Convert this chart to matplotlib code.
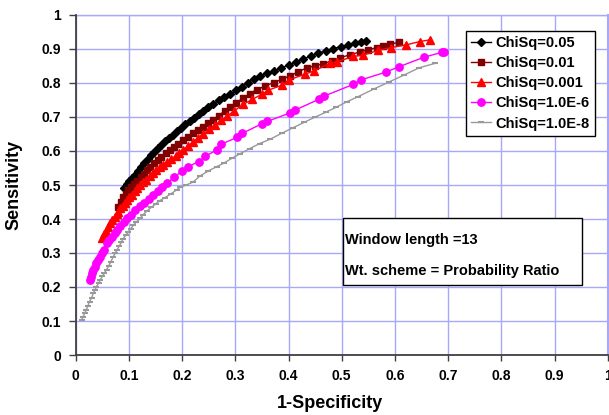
import matplotlib
matplotlib.use("Agg")
import matplotlib.pyplot as plt
from matplotlib.patches import Rectangle

# ---- data ----
labels = ["ChiSq=0.05", "ChiSq=0.01", "ChiSq=0.001", "ChiSq=1.0E-6", "ChiSq=1.0E-8"]

x_005 = [0.091, 0.096, 0.101, 0.106, 0.111, 0.117, 0.123, 0.129, 0.135, 0.141, 0.147, 0.154,
         0.161, 0.168, 0.175, 0.182, 0.190, 0.198, 0.206, 0.214, 0.222, 0.231, 0.240, 0.249,
         0.259, 0.269, 0.279, 0.290, 0.301, 0.312, 0.323, 0.335, 0.347, 0.360, 0.373, 0.386,
         0.400, 0.414, 0.428, 0.442, 0.456, 0.470, 0.484, 0.498, 0.512, 0.525, 0.536, 0.546]
y_005 = [0.492, 0.502, 0.511, 0.521, 0.530, 0.541, 0.553, 0.564, 0.575, 0.587, 0.598, 0.608,
         0.618, 0.628, 0.637, 0.647, 0.658, 0.669, 0.680, 0.689, 0.698, 0.709, 0.719, 0.730,
         0.739, 0.749, 0.758, 0.767, 0.778, 0.789, 0.801, 0.812, 0.820, 0.828, 0.836, 0.844,
         0.853, 0.862, 0.871, 0.880, 0.888, 0.895, 0.901, 0.907, 0.912, 0.917, 0.921, 0.924]

x_001 = [0.080, 0.085, 0.089, 0.094, 0.099, 0.104, 0.110, 0.116, 0.122, 0.128, 0.134, 0.140,
         0.147, 0.154, 0.161, 0.169, 0.177, 0.185, 0.193, 0.202, 0.211, 0.221, 0.230, 0.240,
         0.249, 0.259, 0.269, 0.280, 0.290, 0.302, 0.315, 0.327, 0.340, 0.356, 0.372, 0.388,
         0.403, 0.418, 0.434, 0.450, 0.465, 0.481, 0.497, 0.515, 0.534, 0.550, 0.566, 0.578,
         0.590, 0.608]
y_001 = [0.436, 0.450, 0.464, 0.474, 0.484, 0.494, 0.503, 0.513, 0.523, 0.533, 0.543, 0.554,
         0.564, 0.573, 0.583, 0.593, 0.603, 0.612, 0.621, 0.631, 0.641, 0.652, 0.661, 0.671,
         0.681, 0.691, 0.704, 0.718, 0.730, 0.742, 0.756, 0.769, 0.780, 0.791, 0.801, 0.811,
         0.821, 0.833, 0.844, 0.851, 0.856, 0.865, 0.874, 0.883, 0.891, 0.898, 0.904, 0.909,
         0.914, 0.920]

x_0001 = [0.049, 0.053, 0.057, 0.061, 0.065, 0.069, 0.073, 0.077, 0.080, 0.084, 0.088, 0.092,
          0.096, 0.101, 0.106, 0.111, 0.116, 0.121, 0.127, 0.133, 0.139, 0.145, 0.151, 0.158,
          0.165, 0.172, 0.180, 0.188, 0.195, 0.202, 0.211, 0.220, 0.230, 0.240, 0.251, 0.262,
          0.274, 0.285, 0.297, 0.315, 0.332, 0.350, 0.362, 0.387, 0.401, 0.431, 0.447, 0.478,
          0.492, 0.522, 0.540, 0.569, 0.592, 0.621, 0.647, 0.666]
y_0001 = [0.343, 0.355, 0.366, 0.377, 0.388, 0.397, 0.405, 0.414, 0.422, 0.431, 0.439, 0.448,
          0.456, 0.464, 0.472, 0.481, 0.490, 0.499, 0.508, 0.516, 0.525, 0.534, 0.543, 0.552,
          0.560, 0.568, 0.577, 0.586, 0.594, 0.603, 0.614, 0.625, 0.638, 0.650, 0.664, 0.677,
          0.690, 0.703, 0.717, 0.737, 0.752, 0.767, 0.779, 0.793, 0.809, 0.826, 0.835, 0.858,
          0.863, 0.878, 0.882, 0.896, 0.904, 0.912, 0.922, 0.927]

x_1e6 = [0.027, 0.029, 0.031, 0.033, 0.036, 0.039, 0.042, 0.046, 0.050, 0.054, 0.058, 0.063,
         0.068, 0.073, 0.078, 0.084, 0.090, 0.096, 0.104, 0.112, 0.121, 0.129, 0.137, 0.146,
         0.154, 0.162, 0.171, 0.185, 0.199, 0.212, 0.231, 0.243, 0.265, 0.274, 0.303, 0.313,
         0.350, 0.360, 0.403, 0.412, 0.457, 0.466, 0.522, 0.536, 0.583, 0.608, 0.655, 0.688,
         0.692]
y_1e6 = [0.221, 0.230, 0.240, 0.250, 0.260, 0.270, 0.279, 0.289, 0.299, 0.309, 0.328, 0.338,
         0.348, 0.358, 0.368, 0.378, 0.390, 0.402, 0.413, 0.425, 0.437, 0.448, 0.459, 0.471,
         0.482, 0.493, 0.505, 0.523, 0.540, 0.554, 0.569, 0.584, 0.603, 0.620, 0.640, 0.652,
         0.680, 0.687, 0.712, 0.720, 0.752, 0.761, 0.796, 0.809, 0.832, 0.848, 0.876, 0.890,
         0.892]

x_1e8 = [0.011, 0.014, 0.017, 0.020, 0.023, 0.026, 0.030, 0.033, 0.036, 0.039, 0.043, 0.046,
         0.050, 0.054, 0.058, 0.062, 0.066, 0.070, 0.074, 0.078, 0.082, 0.086, 0.089, 0.094,
         0.099, 0.104, 0.108, 0.114, 0.121, 0.127, 0.134, 0.142, 0.150, 0.158, 0.168, 0.179,
         0.190, 0.196, 0.208, 0.221, 0.233, 0.249, 0.265, 0.278, 0.293, 0.308, 0.327, 0.346,
         0.366, 0.387, 0.408, 0.429, 0.449, 0.470, 0.490, 0.510, 0.531, 0.560, 0.589, 0.618,
         0.646, 0.676]
y_1e8 = [0.103, 0.113, 0.123, 0.133, 0.145, 0.157, 0.169, 0.181, 0.191, 0.201, 0.211, 0.221,
         0.231, 0.241, 0.251, 0.262, 0.274, 0.287, 0.299, 0.310, 0.321, 0.332, 0.342, 0.352,
         0.362, 0.372, 0.381, 0.391, 0.402, 0.413, 0.424, 0.434, 0.444, 0.454, 0.463, 0.474,
         0.486, 0.493, 0.500, 0.509, 0.526, 0.541, 0.554, 0.564, 0.578, 0.591, 0.607, 0.622,
         0.635, 0.652, 0.668, 0.684, 0.699, 0.714, 0.729, 0.745, 0.760, 0.782, 0.803, 0.824,
         0.845, 0.858]

x_ticks = [0, 0.1, 0.2, 0.3, 0.4, 0.5, 0.6, 0.7, 0.8, 0.9, 1]
x_ticklabels = ["0", "0.1", "0.2", "0.3", "0.4", "0.5", "0.6", "0.7", "0.8", "0.9", "1"]
y_ticks = [0, 0.1, 0.2, 0.3, 0.4, 0.5, 0.6, 0.7, 0.8, 0.9, 1]
y_ticklabels = ["0", "0.1", "0.2", "0.3", "0.4", "0.5", "0.6", "0.7", "0.8", "0.9", "1"]
annot_lines = ["Window length =13", "Wt. scheme = Probability Ratio"]

# ---- figure ----
plt.rcParams['font.family'] = ['Liberation Sans', 'DejaVu Sans']
plt.rcParams['font.weight'] = 'bold'

fig = plt.figure(figsize=(6.09, 4.15), dpi=100)
ax = fig.add_axes([75.7 / 609, 60 / 415, 532 / 609, 340 / 415])
ax.set_xlim(0, 1)
ax.set_ylim(0, 1)

grid_c = '#A8A8F8'
ax.set_xticks(x_ticks)
ax.set_xticklabels(x_ticklabels)
ax.set_yticks(y_ticks)
ax.set_yticklabels(y_ticklabels)
ax.grid(True, color=grid_c, linewidth=1.0, zorder=0)
ax.set_axisbelow(True)

for s in ['top', 'right']:
    ax.spines[s].set_visible(False)
for s in ['left', 'bottom']:
    ax.spines[s].set_color('#404040')
    ax.spines[s].set_linewidth(1.3)
    ax.spines[s].set_zorder(5)

ax.tick_params(axis='x', direction='out', length=4, width=1, color='#404040', pad=6, labelsize=10)
ax.tick_params(axis='y', direction='out', length=5, width=1, color='#404040', pad=5.5, labelsize=10)
for t in ax.get_xticklabels() + ax.get_yticklabels():
    t.set_fontweight('bold')

ax.plot([1, 1], [0, 1], color=grid_c, linewidth=1.5, clip_on=False, zorder=0)
ax.plot([0, 1], [1, 1], color=grid_c, linewidth=1.0, clip_on=False, zorder=0)

ax.plot(x_005, y_005, color='black', linewidth=1.0, marker='D', markersize=3.6,
        markerfacecolor='black', markeredgecolor='black', label=labels[0], zorder=3)
ax.plot(x_001, y_001, color='#800000', linewidth=1.0, marker='s', markersize=5.0,
        markerfacecolor='#800000', markeredgecolor='#800000', label=labels[1], zorder=3)
ax.plot(x_0001, y_0001, color='#FF0000', linewidth=1.0, marker='^', markersize=5.3,
        markerfacecolor='#FF0000', markeredgecolor='#FF0000', label=labels[2], zorder=3)
ax.plot(x_1e6, y_1e6, color='#FF00FF', linewidth=1.0, marker='o', markersize=5.3,
        markerfacecolor='#FF00FF', markeredgecolor='#FF00FF', label=labels[3], zorder=3)
ax.plot(x_1e8, y_1e8, color='#999999', linewidth=1.0, marker='_', markersize=5,
        markeredgewidth=1.5, markeredgecolor='#999999', label=labels[4], zorder=3)

leg = ax.legend(loc='upper left', bbox_to_anchor=(0.733, 0.953), borderaxespad=0,
                prop={'family': 'Liberation Sans', 'weight': 'bold', 'size': 10.5},
                frameon=True, fancybox=False, shadow=False, borderpad=0.35,
                labelspacing=0.42, handlelength=1.4, handletextpad=0.3, framealpha=1)
leg.get_frame().set_edgecolor('black')
leg.get_frame().set_linewidth(1.0)
leg.set_zorder(10)

# annotation box
box_x0, box_x1 = 0.502, 0.951
box_y0, box_y1 = 0.206, 0.402
ax.add_patch(Rectangle((box_x0, box_y0), box_x1 - box_x0, box_y1 - box_y0,
                       transform=ax.transAxes, facecolor='white', edgecolor='black',
                       linewidth=1.0, zorder=8))
ax.text(0.506, 0.338, annot_lines[0], transform=ax.transAxes, fontsize=10.5,
        fontweight='bold', va='center', ha='left', zorder=9)
ax.text(0.506, 0.248, annot_lines[1], transform=ax.transAxes, fontsize=10.5,
        fontweight='bold', va='center', ha='left', zorder=9)

fig.text(330 / 609, 1 - 403 / 415, "1-Specificity", ha='center', va='center',
         fontsize=13, fontweight='bold')
fig.text(14 / 609, 1 - 185 / 415, "Sensitivity", ha='center', va='center',
         rotation=90, fontsize=13, fontweight='bold')

fig.savefig("out.png", dpi=100)
